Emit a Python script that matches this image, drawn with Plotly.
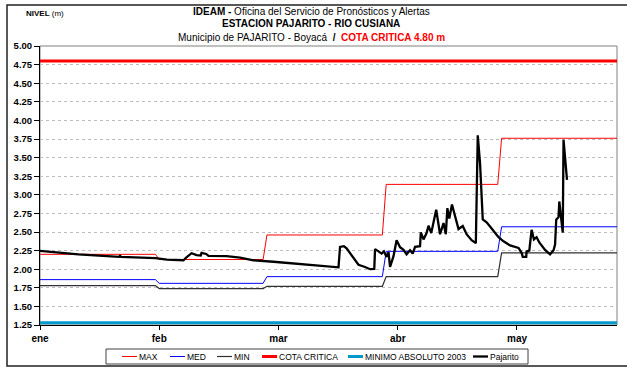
import plotly.graph_objects as go

# ---- data -------------------------------------------------------------
# days are counted from 1 January (day 0); axis runs to 31 May (day 150)
month_start = [0, 31, 59, 90, 120]
month_end = [30, 58, 89, 119, 150]

max_level = [2.20, 2.13, 2.46, 3.14, 3.76]   # MAX per month (m)
med_level = [1.86, 1.81, 1.90, 2.24, 2.57]   # MED per month (m)
min_level = [1.78, 1.74, 1.77, 1.90, 2.22]   # MIN per month (m)

cota_critica = 4.80
minimo_absoluto_2003 = 1.28

pajarito_dia = [
    0, 2, 10, 20.5, 20.8, 21.1, 30, 33, 37.3, 38, 39.4, 40.7, 41.8, 42, 43.2,
    43.8, 48.5, 52, 55.5, 60.7, 65.9, 71.9, 77.6, 78, 79, 79.7, 81, 82.8,
    84.5, 85.8, 86.9, 87.1, 88, 88.8, 89.4, 90.1, 90.6, 91, 91.9, 92.7, 93.6,
    94.5, 95.3, 96.2, 96.9, 97.5, 98.8, 99, 99.7, 100.5, 101, 101.7, 103,
    104, 104.9, 105.5, 105.9, 106.4, 107.1, 107.9, 108.8, 109.9, 110.9,
    112.2, 113.3, 113.8, 114.4, 115.1, 116.1, 117, 117.9, 119.2, 120.5,
    122.2, 124.4, 125.2, 125.5, 126.4, 126.5, 127.2, 127.8, 128.4, 129.1,
    129.8, 131.3, 132.6, 133.5, 133.9, 134.2, 134.8, 135, 135.4, 135.9,
    136.1, 137,
]
pajarito_nivel = [
    2.245, 2.235, 2.20, 2.165, 2.18, 2.165, 2.15, 2.13, 2.12, 2.155, 2.215,
    2.19, 2.185, 2.22, 2.205, 2.18, 2.175, 2.155, 2.12, 2.10, 2.075, 2.045,
    2.025, 2.30, 2.31, 2.28, 2.19, 2.06, 2.03, 2.00, 2.005, 2.27, 2.24, 2.21,
    2.24, 2.165, 2.23, 2.03, 2.175, 2.39, 2.295, 2.26, 2.20, 2.255, 2.21,
    2.30, 2.31, 2.495, 2.40, 2.485, 2.585, 2.485, 2.80, 2.47, 2.62, 2.47,
    2.82, 2.68, 2.87, 2.70, 2.54, 2.58, 2.47, 2.39, 2.35, 3.80, 3.42, 2.67,
    2.63, 2.575, 2.51, 2.43, 2.375, 2.32, 2.285, 2.22, 2.165, 2.165, 2.24,
    2.25, 2.53, 2.40, 2.43, 2.36, 2.26, 2.20, 2.255, 2.33, 2.665, 2.70, 2.91,
    2.69, 2.49, 3.74, 3.20,
]

tick_dias = [0, 31, 62, 93, 124]
tick_meses = ["ene", "feb", "mar", "abr", "may"]
y_ticks = [1.25 + 0.25 * i for i in range(16)]

FONT = "Liberation Sans, Arial, sans-serif"

# ---- canvas geometry (pixels) ----------------------------------------
W, H = 627, 370
L, R, T, B = 40, 617, 46, 325


def px(x):
    return (x - L) / (R - L)


def py(y):
    return (B - y) / (B - T)


def monthly_steps(values):
    xs, ys = [], []
    for s, e, v in zip(month_start, month_end, values):
        xs += [s, e]
        ys += [v, v]
    return xs, ys


x_full = [month_start[0], month_end[-1]]

fig = go.Figure()

mx, my = monthly_steps(max_level)
fig.add_trace(go.Scatter(x=mx, y=my, mode="lines", name="MAX",
                         line=dict(color="#FF0000", width=1)))
dx, dy = monthly_steps(med_level)
fig.add_trace(go.Scatter(x=dx, y=dy, mode="lines", name="MED",
                         line=dict(color="#0000FF", width=1)))
nx, ny = monthly_steps(min_level)
fig.add_trace(go.Scatter(x=nx, y=ny, mode="lines", name="MIN",
                         line=dict(color="#303030", width=1.2)))
fig.add_trace(go.Scatter(x=x_full, y=[cota_critica] * 2, mode="lines",
                         name="COTA CRITICA",
                         line=dict(color="#FF0000", width=3)))
fig.add_trace(go.Scatter(x=x_full, y=[minimo_absoluto_2003] * 2, mode="lines",
                         name="MINIMO ABSOLUTO 2003",
                         line=dict(color="#0099CC", width=3)))
fig.add_trace(go.Scatter(x=pajarito_dia, y=pajarito_nivel, mode="lines",
                         name="Pajarito",
                         line=dict(color="#000000", width=2.3)))

shapes = [
    # outer chart frame
    dict(type="rect", xref="paper", yref="paper",
         x0=px(7), x1=px(632), y0=py(366), y1=py(5),
         line=dict(color="#222222", width=1.5), layer="below"),
    # plot area frame
    dict(type="rect", xref="paper", yref="paper",
         x0=0, x1=1, y0=0, y1=1,
         line=dict(color="#808080", width=1), layer="below"),
    # legend box
    dict(type="rect", xref="paper", yref="paper",
         x0=px(106), x1=px(528), y0=py(364), y1=py(349),
         line=dict(color="#404040", width=1), fillcolor="white"),
]

annotations = [
    dict(text="<b>IDEAM -</b> Oficina del Servicio de Pronósticos y Alertas",
         x=px(311), y=py(12)),
    dict(text="<b>ESTACION PAJARITO - RIO CUSIANA</b>",
         x=px(311), y=py(24)),
    dict(text="Municipio de PAJARITO - Boyacá  <b>/</b>  "
              "<span style='color:#FF0000'><b>COTA CRITICA 4.80 m</b></span>",
         x=px(311), y=py(37)),
]
for a in annotations:
    a.update(xref="paper", yref="paper", showarrow=False, xanchor="center",
             yanchor="middle", font=dict(family=FONT, size=10, color="black"))

annotations.append(dict(text="<b>NIVEL</b> (m)", x=px(24), y=py(13),
                        xref="paper", yref="paper", showarrow=False,
                        xanchor="left", yanchor="middle",
                        font=dict(family=FONT, size=8, color="black")))

# legend entries: sample line + label
legend_items = [
    ("MAX", "#FF0000", 1, 122),
    ("MED", "#0000FF", 1, 170),
    ("MIN", "#303030", 1.2, 217),
    ("COTA CRITICA", "#FF0000", 3, 262),
    ("MINIMO ABSOLUTO 2003", "#0099CC", 3, 348),
    ("Pajarito", "#000000", 2.3, 473),
]
ly = 356.5
for label, color, width, x0 in legend_items:
    shapes.append(dict(type="line", xref="paper", yref="paper",
                       x0=px(x0), x1=px(x0 + 15), y0=py(ly), y1=py(ly),
                       line=dict(color=color, width=width)))
    annotations.append(dict(text=label, x=px(x0 + 15), y=py(ly),
                            xref="paper", yref="paper", showarrow=False,
                            xanchor="left", yanchor="middle",
                            font=dict(family=FONT, size=8.5, color="black")))

fig.update_layout(
    width=W, height=H,
    margin=dict(l=L, r=W - R, t=T, b=H - B, pad=0),
    paper_bgcolor="white", plot_bgcolor="white",
    showlegend=False,
    font=dict(family=FONT, color="black"),
    shapes=shapes,
    annotations=annotations,
)

fig.update_xaxes(
    range=[0, 150], tickmode="array", tickvals=tick_dias, ticktext=tick_meses,
    showgrid=False, zeroline=False,
    showline=True, linecolor="black", linewidth=1,
    ticks="outside", ticklen=4, tickcolor="black",
    tickfont=dict(family=FONT, size=10, color="black", weight="bold"),
)
fig.update_yaxes(
    range=[1.25, 5.0], tickmode="array", tickvals=y_ticks, tickformat=".2f",
    showgrid=True, gridcolor="#BDBDBD", griddash="dot", gridwidth=1,
    zeroline=False,
    showline=True, linecolor="black", linewidth=1,
    ticks="outside", ticklen=5, tickcolor="black",
    tickfont=dict(family=FONT, size=9.5, color="black", weight="bold"),
)

fig.write_html("out.html")
